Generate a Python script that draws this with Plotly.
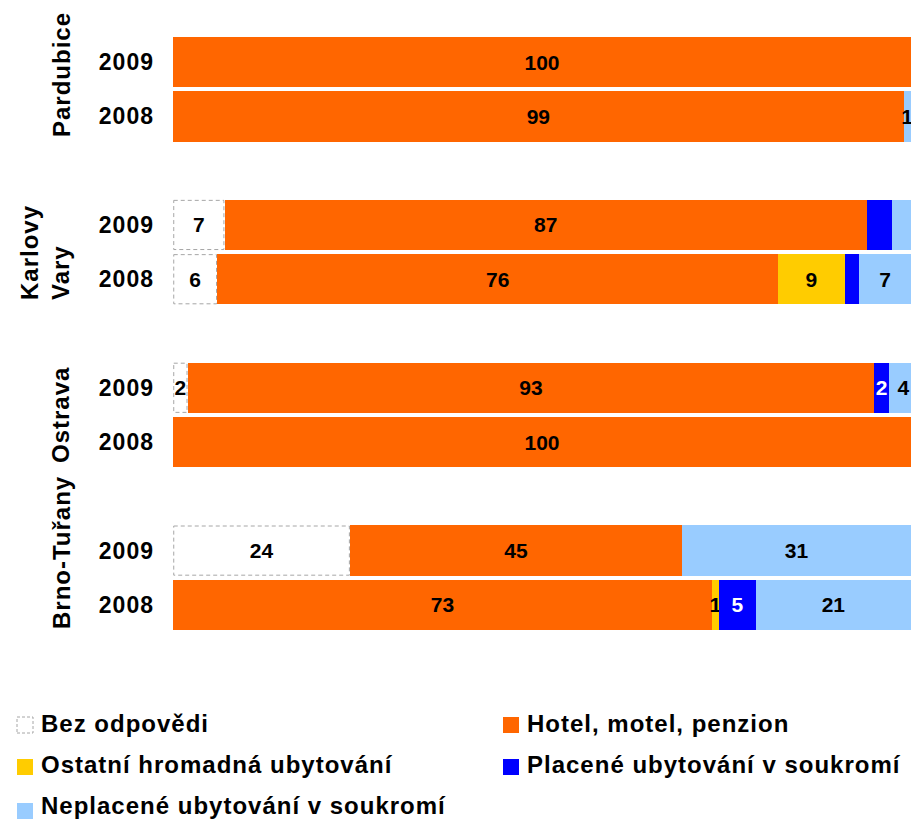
import plotly.graph_objects as go

# Airports (top to bottom) and the two survey years shown for each
airports = ["Pardubice", "Karlovy<br>Vary", "Ostrava", "Brno-Tuřany"]
years = ["2009", "2008"]

# Share of respondents by type of accommodation, one value per bar row
# rows: Pardubice 2009, 2008, Karlovy Vary 2009, 2008, Ostrava 2009, 2008, Brno 2009, 2008
bez_odpovedi = [0, 0, 7, 6, 2, 0, 24, 0]
hotel = [100, 99, 87, 76, 93, 100, 45, 73]
ostatni = [0, 0, 0, 9, 0, 0, 0, 1]
placene = [0, 0, 3.4, 2, 2, 0, 0, 5]
neplacene = [0, 1, 2.6, 7, 4, 0, 31, 21]

series_names = [
    "Bez odpovědi",
    "Hotel, motel, penzion",
    "Ostatní hromadná ubytování",
    "Placené ubytování v soukromí",
    "Neplacené ubytování v soukromí",
]
series_values = [bez_odpovedi, hotel, ostatni, placene, neplacene]
series_colors = ["#FFFFFF", "#FF6600", "#FFCC00", "#0000FF", "#99CCFF"]
label_colors = ["#000000", "#000000", "#000000", "#FFFFFF", "#000000"]
# segments drawn without a value label: (series index, row index)
unlabeled = {(3, 2), (4, 2), (3, 3)}

# ---- layout geometry (pixels) ----
W, H = 911, 821
L, R, T, B = 173, 0, 35, 189
PW, PH = W - L - R, H - T - B
BAR_W = 0.926

# row positions: two rows per airport, one empty slot between airports
row_pos = []
for g in range(len(airports)):
    for k in range(len(years)):
        row_pos.append(g * 3 + k)
row_text = [years[k] for g in range(len(airports)) for k in range(len(years))]

FONT = "Liberation Sans, Arial, sans-serif"


def spaced(s, px=1):
    return f'<span style="letter-spacing:{px}px">{s}</span>'


def px_x(px):
    return (px - L) / PW


def px_y(py):
    return (H - B - py) / PH


fig = go.Figure()
for si, (name, vals) in enumerate(zip(series_names, series_values)):
    texts = []
    for ri, v in enumerate(vals):
        if v > 0 and (si, ri) not in unlabeled:
            texts.append(f"{v:.0f}")
        else:
            texts.append("")
    fig.add_trace(go.Bar(
        name=name,
        y=row_pos,
        x=vals,
        orientation="h",
        width=BAR_W,
        marker=dict(color=series_colors[si], line=dict(width=0)),
        text=texts,
        textposition="inside",
        insidetextanchor="middle",
        textangle=0,
        constraintext="none",
        textfont=dict(family=FONT, size=21, color=label_colors[si], weight="bold"),
        showlegend=False,
        hoverinfo="skip",
    ))

# dashed outline around the "no answer" segments
base_shapes = []
for ri, v in enumerate(bez_odpovedi):
    if v > 0:
        base_shapes.append(dict(
            type="rect", xref="x", yref="y",
            x0=0.1, x1=v - 0.1,
            y0=row_pos[ri] - BAR_W / 2 + 0.01, y1=row_pos[ri] + BAR_W / 2 - 0.01,
            line=dict(color="#A6A6A6", width=1, dash="4px,3px"),
            fillcolor="rgba(0,0,0,0)",
            layer="above",
        ))

annotations = []
# airport names, rotated, to the left of the year labels
airport_label_px = [(61, 75), (45, 253), (61, 415), (61, 553)]
for name, (ax, ay) in zip(airports, airport_label_px):
    annotations.append(dict(
        text=spaced(name), textangle=-90,
        x=px_x(ax), y=px_y(ay), xref="paper", yref="paper",
        xanchor="center", yanchor="middle", showarrow=False,
        align="left",
        font=dict(family=FONT, size=24, color="#000000", weight="bold"),
    ))

# legend: two columns, filled squares followed by the series name
legend_items = [
    (0, 17, 725), (1, 503, 725),
    (2, 17, 767), (3, 503, 767),
    (4, 17, 811),
]
legend_shapes = []
ICON = 16
for si, lx, ly in legend_items:
    if si == 0:
        line = dict(color="#A6A6A6", width=1, dash="3px,2px")
    else:
        line = dict(width=0)
    legend_shapes.append(dict(
        type="rect", xref="paper", yref="paper",
        x0=px_x(lx), x1=px_x(lx + ICON),
        y0=px_y(ly + ICON / 2), y1=px_y(ly - ICON / 2),
        fillcolor=series_colors[si], line=line,
    ))
    last_row = ly > 800
    annotations.append(dict(
        text=spaced(series_names[si]),
        x=px_x(lx + ICON + 6),
        y=px_y(H) if last_row else px_y(ly - 2),
        xref="paper", yref="paper",
        xanchor="left", yanchor="bottom" if last_row else "middle",
        showarrow=False,
        font=dict(family=FONT, size=24, color="#000000", weight="bold"),
    ))

fig.update_layout(
    width=W, height=H,
    margin=dict(l=L, r=R, t=T, b=B, pad=0),
    barmode="stack",
    paper_bgcolor="#FFFFFF",
    plot_bgcolor="#FFFFFF",
    xaxis=dict(range=[0, 100], visible=False, fixedrange=True),
    yaxis=dict(
        range=[10.5, -0.5],
        tickmode="array", tickvals=row_pos,
        ticktext=[spaced(t) for t in row_text],
        ticks="", showline=False, showgrid=False, zeroline=False,
        ticklabelstandoff=18,
        tickfont=dict(family=FONT, size=23, color="#000000", weight="bold"),
        fixedrange=True,
    ),
    shapes=base_shapes + legend_shapes,
    annotations=annotations,
    showlegend=False,
)

fig.write_html("out.html")
